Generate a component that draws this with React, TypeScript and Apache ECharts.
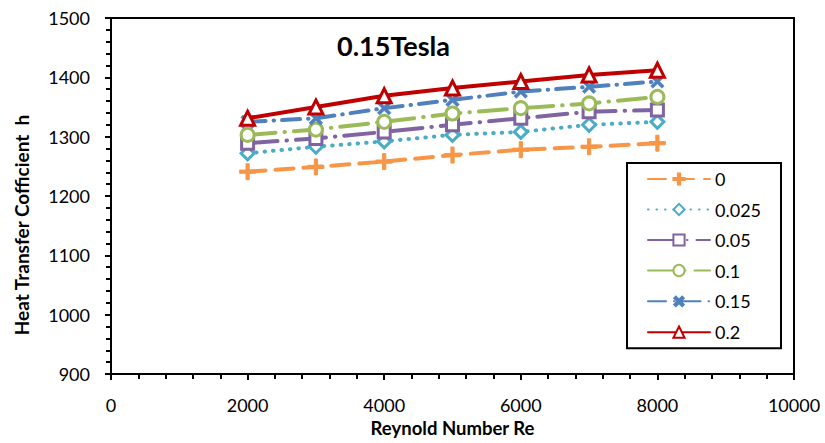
import React, { useEffect, useRef } from "react";
import * as echarts from "echarts";

const reynolds = [2000, 3000, 4000, 5000, 6000, 7000, 8000];
const seriesNames = ["0", "0.025", "0.05", "0.1", "0.15", "0.2"];
const h0 = [1241, 1249, 1258, 1269, 1278, 1283, 1289];
const h0025 = [1272, 1283, 1292, 1303, 1308, 1320, 1325];
const h005 = [1289, 1297, 1308, 1320, 1331, 1342, 1345];
const h01 = [1303, 1312, 1325, 1339, 1348, 1356, 1367];
const h015 = [1325, 1331, 1348, 1362, 1376, 1384, 1393];
const h02 = [1331, 1350, 1369, 1382, 1393, 1404, 1412];
const xTicks = [0, 2000, 4000, 6000, 8000, 10000];
const yTicks = [900, 1000, 1100, 1200, 1300, 1400, 1500];
const titleText = "0.15Tesla";
const xTitle = "Reynold Number Re";
const yTitle = "Heat Transfer Cofficient  h";

const FONT = "Lato";
const PLUS = "path://M4,0 H6 V4 H10 V6 H6 V10 H4 V6 H0 V4 H4 Z";

export default function App() {
  const ref = useRef<HTMLDivElement>(null);
  useEffect(() => {
    if (!ref.current) return;
    const chart = echarts.init(ref.current, undefined, { renderer: "svg" });
    const allData = [h0, h0025, h005, h01, h015, h02];
    const colors = ["#F79646", "#4BACC6", "#8064A2", "#9BBB59", "#4F81BD", "#C00000"];
    const symbols = [PLUS, "diamond", "rect", "circle", PLUS, "triangle"];
    const hollow = [false, true, true, true, false, true];
    const solidBorder = [1, 0, 0, 0, 0.6, 0];
    const rotates = [0, 0, 0, 0, 45, 0];
    const sizes = [16, 13, 12, 13, 16, 14];
    const dashes: any[] = [[18, 10], [0.5, 8], [30, 9, 0.5, 9], [28, 9, 0.5, 9], [18, 8, 0.5, 8], "solid"];
    const series = allData.map((d, i) => ({
      name: seriesNames[i],
      type: "line",
      data: d.map((v, j) => [reynolds[j], v]),
      symbol: symbols[i],
      symbolSize: sizes[i],
      symbolRotate: rotates[i],
      showAllSymbol: true,
      itemStyle: hollow[i]
        ? { color: "#fff", borderColor: colors[i], borderWidth: 3 }
        : { color: colors[i], borderColor: colors[i], borderWidth: solidBorder[i] },
      lineStyle: { color: colors[i], width: 4, type: dashes[i], cap: "round" },
      emphasis: { disabled: true },
      z: 2 + i,
    }));
    chart.setOption({
      animation: false,
      backgroundColor: "#fff",
      textStyle: { fontFamily: FONT },
      title: {
        text: titleText,
        left: 337,
        top: 32,
        padding: 0,
        textStyle: { fontFamily: FONT, fontWeight: "bold", fontSize: 27, color: "#000" },
      },
      graphic: [
        {
          type: "text",
          x: 21,
          y: 225,
          rotation: Math.PI / 2,
          style: {
            text: yTitle,
            fontFamily: FONT,
            fontWeight: "bold",
            fontSize: 19,
            fill: "#000",
            textAlign: "center",
            textVerticalAlign: "middle",
          },
        },
      ],
      grid: {
        left: 111,
        right: 31,
        top: 18,
        bottom: 69,
        show: true,
        borderColor: "#000",
        borderWidth: 2,
      },
      legend: {
        orient: "vertical",
        left: 627,
        top: 163,
        data: seriesNames,
        borderColor: "#000",
        borderWidth: 2,
        backgroundColor: "#fff",
        padding: [7, 20, 7, 20],
        itemWidth: 62,
        itemHeight: 14,
        itemGap: 12.5,
        textStyle: { fontFamily: FONT, fontSize: 18, color: "#000", lineHeight: 18 },
      },
      xAxis: {
        type: "value",
        min: xTicks[0],
        max: xTicks[xTicks.length - 1],
        interval: 2000,
        name: xTitle,
        nameLocation: "middle",
        nameGap: 41,
        nameTextStyle: { fontFamily: FONT, fontWeight: "bold", fontSize: 18.5, color: "#000" },
        axisLine: { show: true, lineStyle: { color: "#000", width: 2 } },
        axisTick: { show: true, length: 6, lineStyle: { color: "#000", width: 2 } },
        minorTick: { show: true, splitNumber: 5, length: 5, lineStyle: { color: "#000", width: 2 } },
        splitLine: { show: false },
        axisLabel: { fontFamily: FONT, fontSize: 18, color: "#000", margin: 22, formatter: (v: number) => String(v) },
      },
      yAxis: {
        type: "value",
        min: yTicks[0],
        max: yTicks[yTicks.length - 1],
        interval: 100,
        axisLine: { show: true, lineStyle: { color: "#000", width: 2 } },
        axisTick: { show: true, length: 6, lineStyle: { color: "#000", width: 2 } },
        minorTick: { show: true, splitNumber: 5, length: 5, lineStyle: { color: "#000", width: 2 } },
        splitLine: { show: false },
        axisLabel: { fontFamily: FONT, fontSize: 18, color: "#000", margin: 21, formatter: (v: number) => String(v) },
      },
      series,
    });
    return () => chart.dispose();
  }, []);
  return <div ref={ref} style={{ width: 825, height: 443, position: "absolute", left: 0, top: 0 }} />;
}
